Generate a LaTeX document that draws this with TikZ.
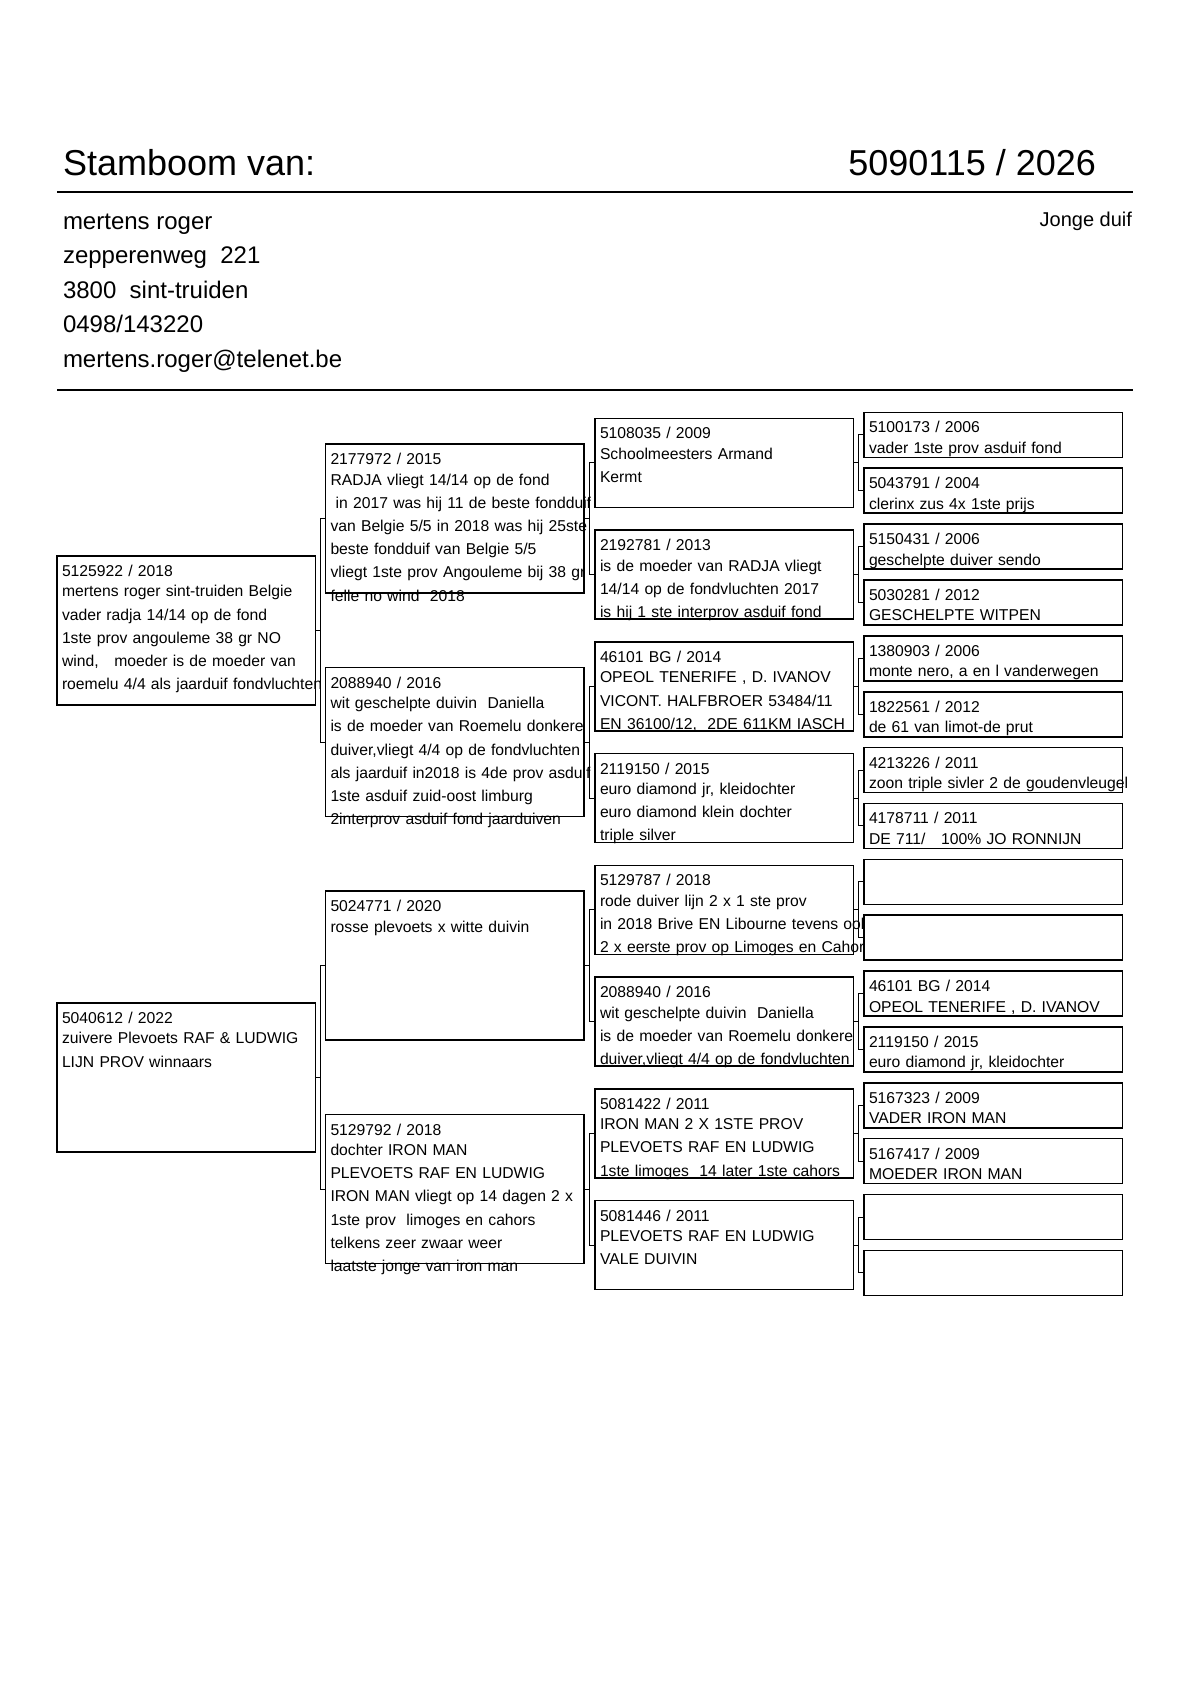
\documentclass[tikz,border=0pt]{standalone}
\usepackage{fontspec}
\setmainfont{Liberation Sans}
\tikzset{
  pbox/.style={draw, line width=0.8pt, inner sep=0pt, outer sep=0pt, anchor=north west},
  ptext/.style={anchor=base west, inner sep=0pt, outer sep=0pt, align=left, text width=200pt,
    font=\fontsize{7.85pt}{11.6pt}\selectfont},
  conn/.style={line width=0.45pt},
  rule/.style={line width=1pt},
  hdr/.style={inner sep=0pt, outer sep=0pt},
}
\newcommand\pbx[4]{\node[pbox, minimum width={258.5*0.5pt}, minimum height={#4*0.5pt}] (#1) at (#2,#3) {};}
\newcommand\ptx[2]{\node[ptext] (#1t) at ([shift={(5,20.5)}]#1.north west) {#2};}
\newcommand\firstgap{\\[-1.35pt]}
\begin{document}
\begin{tikzpicture}[x=0.5pt,y=-0.5pt]
\fill[white] (0,0) rectangle (1190,1683);
\useasboundingbox (0,0) rectangle (1190,1683);

% header
\node[hdr, anchor=base west, font=\fontsize{18pt}{20pt}\selectfont] (title) at (63,175.5) {Stamboom van:};
\node[hdr, anchor=base east, font=\fontsize{18pt}{20pt}\selectfont] (ring) at (1096,175.5) {5090115 / 2026};
\draw[rule] (57,192) -- (1133,192);
\node[hdr, anchor=base west, font=\fontsize{12pt}{14pt}\selectfont] (ad1) at (63,229) {mertens roger};
\node[hdr, anchor=base west, font=\fontsize{12pt}{14pt}\selectfont] (ad2) at (63,263.5) {zepperenweg~~221};
\node[hdr, anchor=base west, font=\fontsize{12pt}{14pt}\selectfont] (ad3) at (63,298) {3800~~sint-truiden};
\node[hdr, anchor=base west, font=\fontsize{12pt}{14pt}\selectfont] (ad4) at (63,332.5) {0498/143220};
\node[hdr, anchor=base west, font=\fontsize{12pt}{14pt}\selectfont] (ad5) at (63,367) {mertens.roger@telenet.be};
\node[hdr, anchor=base east, font=\fontsize{10pt}{12pt}\selectfont] (jonge) at (1132,226) {Jonge duif};
\draw[rule] (57,390) -- (1133,390);

% boxes generation 1
\pbx{g1a}{57}{555.9}{149}
\pbx{g1b}{57}{1002.9}{149}
% generation 2
\pbx{g2a}{325.5}{444.1}{149}
\pbx{g2b}{325.5}{667.6}{149}
\pbx{g2c}{325.5}{891.1}{149}
\pbx{g2d}{325.5}{1114.5}{149}
% generation 3
\pbx{g3a}{595}{418.3}{89}
\pbx{g3b}{595}{530.0}{89}
\pbx{g3c}{595}{641.8}{89}
\pbx{g3d}{595}{753.5}{89}
\pbx{g3e}{595}{865.3}{89}
\pbx{g3f}{595}{977.0}{89}
\pbx{g3g}{595}{1088.7}{89}
\pbx{g3h}{595}{1200.5}{89}
% generation 4
\pbx{g4a}{864}{412.3}{45}
\pbx{g4b}{864}{468.2}{45}
\pbx{g4c}{864}{524.0}{45}
\pbx{g4d}{864}{579.9}{45}
\pbx{g4e}{864}{635.8}{45}
\pbx{g4f}{864}{691.7}{45}
\pbx{g4g}{864}{747.5}{45}
\pbx{g4h}{864}{803.4}{45}
\pbx{g4i}{864}{859.3}{45}
\pbx{g4j}{864}{915.1}{45}
\pbx{g4k}{864}{971.0}{45}
\pbx{g4l}{864}{1026.9}{45}
\pbx{g4m}{864}{1082.7}{45}
\pbx{g4n}{864}{1138.6}{45}
\pbx{g4o}{864}{1194.5}{45}
\pbx{g4p}{864}{1250.4}{45}

% connectors
\foreach \p/\a/\b in {g1a/g2a/g2b, g1b/g2c/g2d,
  g2a/g3a/g3b, g2b/g3c/g3d, g2c/g3e/g3f, g2d/g3g/g3h,
  g3a/g4a/g4b, g3b/g4c/g4d, g3c/g4e/g4f, g3d/g4g/g4h,
  g3e/g4i/g4j, g3f/g4k/g4l, g3g/g4m/g4n, g3h/g4o/g4p} {
  \draw[conn] (\p.east) -- ++(5,0) |- (\a.west);
  \draw[conn] (\p.east) -- ++(5,0) |- (\b.west);
}

% texts generation 1
\begin{scope}
\clip (40,400) rectangle (324,1400);
\ptx{g1a}{5125922 / 2018\firstgap mertens roger sint-truiden Belgie\\vader radja 14/14 op de fond\\1ste prov angouleme 38 gr NO\\wind,~~~moeder is de moeder van\\roemelu 4/4 als jaarduif fondvluchten}
\ptx{g1b}{5040612 / 2022\firstgap zuivere Plevoets RAF \& LUDWIG\\LIJN PROV winnaars}
\end{scope}

% texts generation 2
\begin{scope}
\clip (320,400) rectangle (593,1400);
\ptx{g2a}{2177972 / 2015\firstgap RADJA vliegt 14/14 op de fond\\\mbox{}\ in 2017 was hij 11 de beste fondduif\\van Belgie 5/5 in 2018 was hij 25ste\\beste fondduif van Belgie 5/5\\vliegt 1ste prov Angouleme bij 38 gr\\felle no wind~~2018}
\ptx{g2b}{2088940 / 2016\firstgap wit geschelpte duivin~~Daniella\\is de moeder van Roemelu donkere\\duiver,vliegt 4/4 op de fondvluchten\\als jaarduif in2018 is 4de prov asduif fond\\1ste asduif zuid-oost limburg\\2interprov asduif fond jaarduiven}
\ptx{g2c}{5024771 / 2020\firstgap rosse plevoets x witte duivin}
\ptx{g2d}{5129792 / 2018\firstgap dochter IRON MAN\\PLEVOETS RAF EN LUDWIG\\IRON MAN vliegt op 14 dagen 2 x\\1ste prov~~limoges en cahors\\telkens zeer zwaar weer\\laatste jonge van iron man}
\end{scope}

% texts generation 3
\begin{scope}
\clip (590,400) rectangle (862,1400);
\ptx{g3a}{5108035 / 2009\firstgap Schoolmeesters Armand\\Kermt}
\ptx{g3b}{2192781 / 2013\firstgap is de moeder van RADJA vliegt\\14/14 op de fondvluchten 2017\\is hij 1 ste interprov asduif fond}
\ptx{g3c}{46101 BG / 2014\firstgap OPEOL TENERIFE , D. IVANOV\\VICONT. HALFBROER 53484/11\\EN 36100/12,~~2DE 611KM IASCH}
\ptx{g3d}{2119150 / 2015\firstgap euro diamond jr, kleidochter\\euro diamond klein dochter\\triple silver}
\ptx{g3e}{5129787 / 2018\firstgap rode duiver lijn 2 x 1 ste prov\\in 2018 Brive EN Libourne tevens ook\\2 x eerste prov op Limoges en Cahors}
\ptx{g3f}{2088940 / 2016\firstgap wit geschelpte duivin~~Daniella\\is de moeder van Roemelu donkere\\duiver,vliegt 4/4 op de fondvluchten}
\ptx{g3g}{5081422 / 2011\firstgap IRON MAN 2 X 1STE PROV\\PLEVOETS RAF EN LUDWIG\\1ste limoges~~14 later 1ste cahors}
\ptx{g3h}{5081446 / 2011\firstgap PLEVOETS RAF EN LUDWIG\\VALE DUIVIN}
\end{scope}

% texts generation 4
\ptx{g4a}{5100173 / 2006\firstgap vader 1ste prov asduif fond}
\ptx{g4b}{5043791 / 2004\firstgap clerinx zus 4x 1ste prijs}
\ptx{g4c}{5150431 / 2006\firstgap geschelpte duiver sendo}
\ptx{g4d}{5030281 / 2012\firstgap GESCHELPTE WITPEN}
\ptx{g4e}{1380903 / 2006\firstgap monte nero, a en l vanderwegen}
\ptx{g4f}{1822561 / 2012\firstgap de 61 van limot-de prut}
\ptx{g4g}{4213226 / 2011\firstgap zoon triple sivler 2 de goudenvleugel}
\ptx{g4h}{4178711 / 2011\firstgap DE 711/~~~100\% JO RONNIJN}
\ptx{g4k}{46101 BG / 2014\firstgap OPEOL TENERIFE , D. IVANOV}
\ptx{g4l}{2119150 / 2015\firstgap euro diamond jr, kleidochter}
\ptx{g4m}{5167323 / 2009\firstgap VADER IRON MAN}
\ptx{g4n}{5167417 / 2009\firstgap MOEDER IRON MAN}
\end{tikzpicture}
\end{document}
